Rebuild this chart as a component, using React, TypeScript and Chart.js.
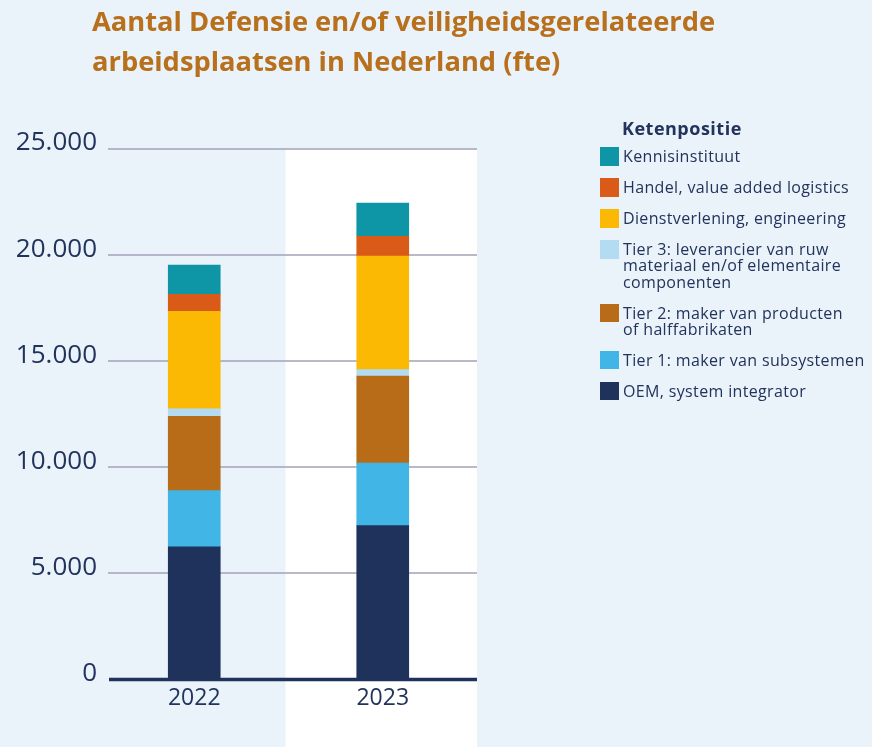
import React, { useEffect, useRef } from 'react';
import { Chart, registerables } from 'chart.js';

Chart.register(...registerables);

// ---- Data ----
const years = ['2022', '2023'];
const oem = [6250, 7250];
const tier1 = [2650, 2950];
const tier2 = [3500, 4100];
const tier3 = [350, 300];
const dienst = [4600, 5350];
const handel = [800, 930];
const kennis = [1380, 1570];

const seriesLabels = [
  'OEM, system integrator',
  'Tier 1: maker van subsystemen',
  'Tier 2: maker van producten\nof halffabrikaten',
  'Tier 3: leverancier van ruw\nmateriaal en/of elementaire\ncomponenten',
  'Dienstverlening, engineering',
  'Handel, value added logistics',
  'Kennisinstituut',
];
const seriesValues = [oem, tier1, tier2, tier3, dienst, handel, kennis];
const seriesColors = ['#1f325b', '#41b5e5', '#b86c18', '#b3dcf3', '#fbb903', '#da5a17', '#0e95a6'];

const titleLines = ['Aantal Defensie en/of veiligheidsgerelateerde', 'arbeidsplaatsen in Nederland (fte)'];
const legendTitle = 'Ketenpositie';
const yMax = 25000;
const yStep = 5000;

const NAVY = '#22335c';
const FONT = '"Open Sans", sans-serif';

function fmt(v: number) {
  return String(v).replace(/\B(?=(\d{3})+(?!\d))/g, '.');
}

export default function App() {
  const ref = useRef<HTMLCanvasElement>(null);

  useEffect(() => {
    document.body.style.margin = '0';
    const canvas = ref.current!;
    const decor = {
      id: 'decor',
      beforeDraw(chart: any) {
        const { ctx, chartArea, scales } = chart;
        const x = scales.x;
        const half = (x.getPixelForValue(1) - x.getPixelForValue(0)) / 2;
        const left = x.getPixelForValue(1) - half - 3;
        ctx.save();
        ctx.fillStyle = '#ffffff';
        ctx.fillRect(left, chartArea.top, chartArea.right - left, chart.height - chartArea.top);
        ctx.restore();
      },
      beforeDatasetsDraw(chart: any) {
        const { ctx, chartArea, scales } = chart;
        const y = scales.y;
        ctx.save();
        ctx.strokeStyle = '#a3a2b8';
        ctx.lineWidth = 1.6;
        y.ticks.forEach((t: any) => {
          if (t.value === 0) return;
          const py = Math.round(y.getPixelForValue(t.value));
          ctx.beginPath();
          ctx.moveTo(chartArea.left + 8, py);
          ctx.lineTo(chartArea.right, py);
          ctx.stroke();
        });
        ctx.restore();
      },
      afterDatasetsDraw(chart: any) {
        const { ctx, chartArea, scales } = chart;
        const py = scales.y.getPixelForValue(0);
        ctx.save();
        ctx.strokeStyle = '#1f325b';
        ctx.lineWidth = 3.5;
        ctx.beginPath();
        ctx.moveTo(chartArea.left + 9, py);
        ctx.lineTo(chartArea.right, py);
        ctx.stroke();
        ctx.restore();
      },
    };

    const chart = new Chart(canvas, {
      type: 'bar',
      data: {
        labels: years,
        datasets: seriesValues.map((vals, i) => ({
          label: seriesLabels[i],
          data: vals,
          backgroundColor: seriesColors[i],
          borderWidth: 0,
          barThickness: 52,
        })),
      },
      options: {
        animation: false,
        responsive: false,
        layout: { padding: { left: 8, right: 395, top: 149, bottom: 27 } },
        plugins: {
          legend: { display: false },
          title: { display: false },
          tooltip: { enabled: false },
        },
        scales: {
          x: {
            stacked: true,
            offset: true,
            grid: { display: false, drawTicks: false },
            border: { display: false },
            ticks: { color: NAVY, font: { family: FONT, size: 23 }, padding: 5 },
            afterFit: (s: any) => { s.height = 40.5; },
          },
          y: {
            stacked: true,
            min: 0,
            max: yMax,
            grid: { display: false, drawTicks: false },
            border: { display: false },
            ticks: {
              stepSize: yStep,
              color: NAVY,
              font: { family: FONT, size: 26 },
              padding: 3,
              labelOffset: -6,
              callback: (v: any) => fmt(Number(v)),
            },
            afterFit: (s: any) => { s.width = 92; },
          },
        },
      },
      plugins: [decor],
    });
    return () => chart.destroy();
  }, []);

  const legendItems = seriesLabels.map((l, i) => ({ label: l, color: seriesColors[i] })).reverse();

  return (
    <div style={{ position: 'relative', width: 872, height: 747, background: '#eaf2fa', overflow: 'hidden', fontFamily: FONT }}>
      <canvas ref={ref} width={872} height={747} style={{ position: 'absolute', left: 0, top: 0, width: 872, height: 747 }} />
      <div style={{ position: 'absolute', left: 92, top: 1, color: '#b8701c', fontWeight: 700, fontSize: 27.3, lineHeight: '40px', whiteSpace: 'nowrap' }}>
        {titleLines.map((t, i) => <div key={i}>{t}</div>)}
      </div>
      <div style={{ position: 'absolute', left: 622, top: 116, color: NAVY, fontWeight: 700, fontSize: 18, letterSpacing: 0.5, lineHeight: '24px', whiteSpace: 'nowrap' }}>
        {legendTitle}
      </div>
      <div style={{ position: 'absolute', left: 600, top: 147.3 }}>
        {legendItems.map((it, i) => {
          const lines = it.label.split('\n');
          return (
            <div key={i} style={{ position: 'relative', height: lines.length * 16.2, marginBottom: 14.8 }}>
              <div style={{ position: 'absolute', left: 0, top: 0, width: 19, height: 18.4, background: it.color }} />
              <div style={{ position: 'absolute', left: 23, top: 1, color: NAVY, fontSize: 16, letterSpacing: 0.35, lineHeight: '16.2px', whiteSpace: 'nowrap' }}>
                {lines.map((ln, j) => <div key={j}>{ln}</div>)}
              </div>
            </div>
          );
        })}
      </div>
    </div>
  );
}
